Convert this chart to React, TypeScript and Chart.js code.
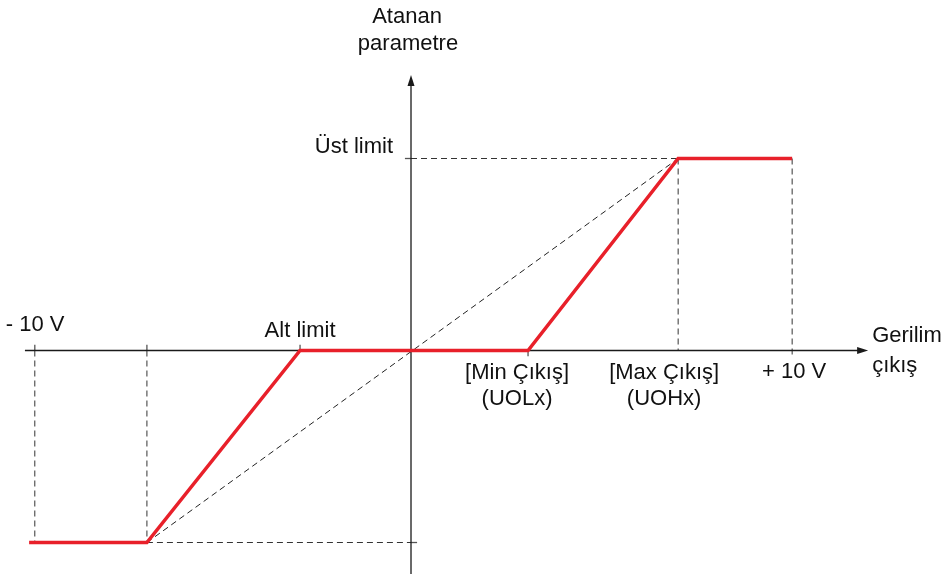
import React, { useEffect, useRef } from "react";
import { Chart, registerables } from "chart.js";

Chart.register(...registerables);

// Scale: volts on x, parameter (percent of limit) on y
const X_MIN = -10.816;
const X_MAX = 14.0;
const Y_MIN = -116.4;
const Y_MAX = 182.55;

// Red transfer curve
const redX = [-10.05, -6.95, -2.92, 3.08, 7.03, 10.03];
const redY = [-100, -100, 0, 0, 100, 100];

// Dashed ideal diagonal
const diagX = [-6.95, 7.03];
const diagY = [-100, 100];

// Axes extents
const xAxisStart = -10.16;
const xAxisTip = 12.03;
const yAxisBottom = -117;
const yAxisTip = 143.5;

// Dashed guide segments [x1, y1, x2, y2]
const guideSegments: number[][] = [
  [-9.9, 0, -9.9, -100],
  [-6.95, 0, -6.95, -100],
  [-6.95, -100, 0, -100],
  [0, 100, 7.03, 100],
  [7.03, 100, 7.03, 0],
  [10.03, 100, 10.03, -3],
];

// Short solid tick segments [x1, y1, x2, y2]
const tickSegments: number[][] = [
  [-9.9, 0, -9.9, 3],
  [-6.95, 0, -6.95, 3],
  [-2.92, 0, -2.92, 3],
  [3.08, 0, 3.08, -3],
  [0, 100, -0.16, 100],
  [0, -100, 0.16, -100],
];

const labels = [
  { text: "Atanan", x: 0, y: yAxisTip, dx: -4, dy: -52, align: "center" },
  { text: "parametre", x: 0, y: yAxisTip, dx: -3, dy: -25, align: "center" },
  { text: "Üst limit", x: 0, y: 100, dx: -18, dy: -6, align: "right" },
  { text: "- 10 V", x: -9.9, y: 0, dx: -29, dy: -20, align: "left" },
  { text: "Alt limit", x: -2.92, y: 0, dx: 0, dy: -14, align: "center" },
  { text: "[Min Çıkış]", x: 3.08, y: 0, dx: -11, dy: 28, align: "center" },
  { text: "(UOLx)", x: 3.08, y: 0, dx: -11, dy: 54, align: "center" },
  { text: "[Max Çıkış]", x: 7.03, y: 0, dx: -14, dy: 28, align: "center" },
  { text: "(UOHx)", x: 7.03, y: 0, dx: -14, dy: 54, align: "center" },
  { text: "+ 10 V", x: 10.03, y: 0, dx: 2, dy: 27, align: "center" },
  { text: "Gerilim", x: xAxisTip, y: 0, dx: 4, dy: -9, align: "left" },
  { text: "çıkış", x: xAxisTip, y: 0, dx: 4, dy: 21, align: "left" },
];

const FONT = '22px "Liberation Sans", Arial, Helvetica, sans-serif';

const pts = (xs: number[], ys: number[]) => xs.map((x, i) => ({ x, y: ys[i] }));

const overlayPlugin = {
  id: "overlay",
  afterDatasetsDraw(chart: any) {
    const ctx = chart.ctx;
    const xs = chart.scales.x;
    const ys = chart.scales.y;
    ctx.save();
    // arrow heads
    ctx.fillStyle = "#1a1a1a";
    const ax = xs.getPixelForValue(xAxisTip);
    const ay = ys.getPixelForValue(0);
    ctx.beginPath();
    ctx.moveTo(ax, ay);
    ctx.lineTo(ax - 11, ay - 3.5);
    ctx.lineTo(ax - 11, ay + 3.5);
    ctx.closePath();
    ctx.fill();
    const bx = xs.getPixelForValue(0);
    const by = ys.getPixelForValue(yAxisTip);
    ctx.beginPath();
    ctx.moveTo(bx, by);
    ctx.lineTo(bx - 3.5, by + 11);
    ctx.lineTo(bx + 3.5, by + 11);
    ctx.closePath();
    ctx.fill();
    // labels
    ctx.font = FONT;
    ctx.fillStyle = "#111";
    ctx.textBaseline = "alphabetic";
    for (const l of labels) {
      ctx.textAlign = l.align;
      ctx.fillText(l.text, xs.getPixelForValue(l.x) + l.dx, ys.getPixelForValue(l.y) + l.dy);
    }
    ctx.restore();
  },
};

export default function App() {
  const ref = useRef<HTMLCanvasElement | null>(null);
  useEffect(() => {
    if (!ref.current) return;
    const datasets: any[] = [];
    datasets.push({
      data: pts(redX, redY),
      borderColor: "#e8202a",
      borderWidth: 3.5,
      showLine: true,
      pointRadius: 0,
      borderJoinStyle: "miter",
    });
    datasets.push({
      data: [
        { x: xAxisStart, y: 0 },
        { x: xAxisTip - 0.25, y: 0 },
      ],
      borderColor: "#1a1a1a",
      borderWidth: 1.3,
      showLine: true,
      pointRadius: 0,
    });
    datasets.push({
      data: [
        { x: 0, y: yAxisBottom },
        { x: 0, y: yAxisTip - 5 },
      ],
      borderColor: "#1a1a1a",
      borderWidth: 1.3,
      showLine: true,
      pointRadius: 0,
    });
    for (const s of tickSegments) {
      datasets.push({
        data: [
          { x: s[0], y: s[1] },
          { x: s[2], y: s[3] },
        ],
        borderColor: "#555",
        borderWidth: 1.3,
        showLine: true,
        pointRadius: 0,
      });
    }
    datasets.push({
      data: pts(diagX, diagY),
      borderColor: "#222",
      borderWidth: 1,
      borderDash: [6, 4],
      showLine: true,
      pointRadius: 0,
    });
    for (const s of guideSegments) {
      datasets.push({
        data: [
          { x: s[0], y: s[1] },
          { x: s[2], y: s[3] },
        ],
        borderColor: "#333",
        borderWidth: 1,
        borderDash: [6, 4],
        showLine: true,
        pointRadius: 0,
      });
    }
    const chart = new Chart(ref.current, {
      type: "scatter",
      data: { datasets },
      options: {
        responsive: false,
        animation: false,
        devicePixelRatio: 1,
        layout: { padding: 0 },
        plugins: { legend: { display: false }, tooltip: { enabled: false } },
        scales: {
          x: { type: "linear", min: X_MIN, max: X_MAX, display: false },
          y: { type: "linear", min: Y_MIN, max: Y_MAX, display: false },
        },
      },
      plugins: [overlayPlugin],
    } as any);
    return () => chart.destroy();
  }, []);
  return (
    <div style={{ position: "absolute", left: 0, top: 0, width: 943, height: 574, background: "#fff" }}>
      <canvas ref={ref} width={943} height={574} />
    </div>
  );
}
